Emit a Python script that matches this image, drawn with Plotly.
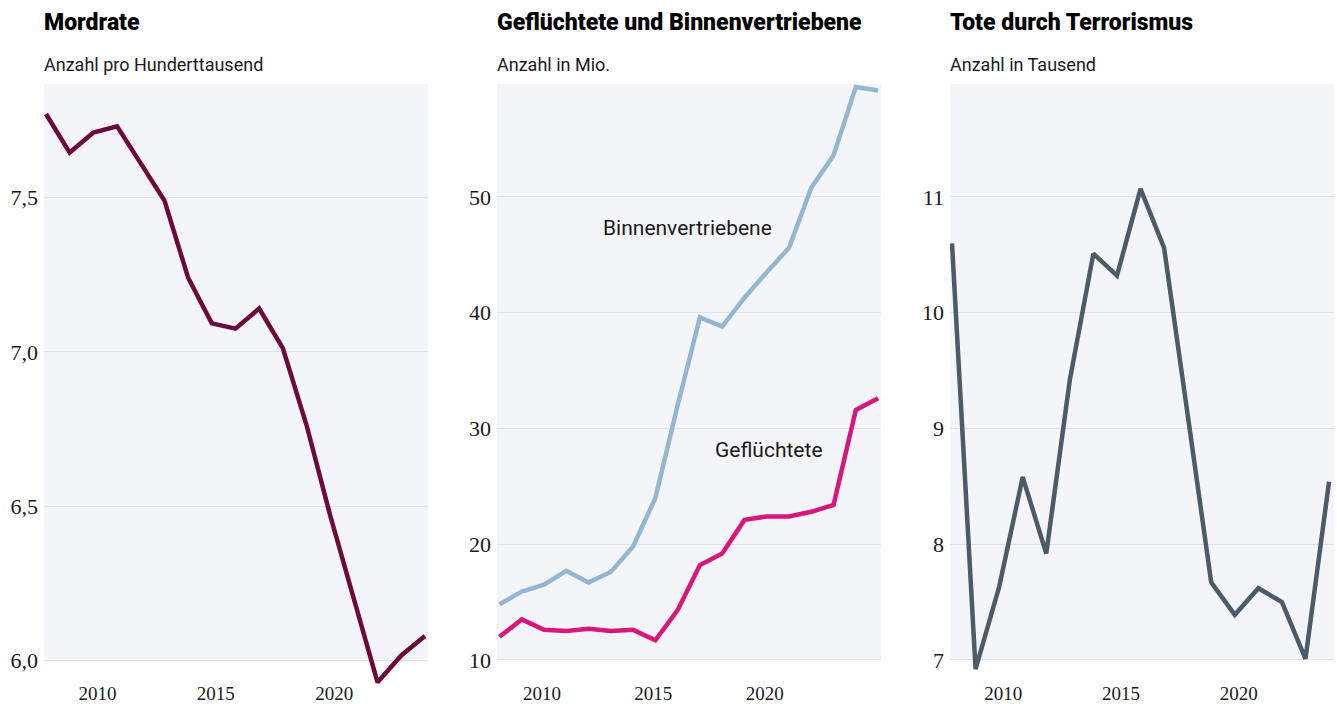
import plotly.graph_objects as go

# ---------------- data ----------------
years_mord = list(range(2008, 2025))
mordrate = [7.77, 7.645, 7.71, 7.73, 7.61, 7.49, 7.24, 7.092, 7.075, 7.14, 7.012,
            6.763, 6.47, 6.20, 5.93, 6.017, 6.08]

years_flucht = list(range(2008, 2026))
binnenvertriebene = [14.8, 15.9, 16.5, 17.7, 16.7, 17.6, 19.8, 24.0, 32.0, 39.6, 38.8,
                     41.3, 43.5, 45.6, 50.8, 53.6, 59.5, 59.2]
gefluechtete = [12.0, 13.5, 12.6, 12.5, 12.7, 12.5, 12.6, 11.7, 14.3, 18.2, 19.2,
                22.1, 22.4, 22.4, 22.8, 23.4, 31.6, 32.6]

years_terror = list(range(2008, 2025))
terrortote = [10.60, 6.92, 7.63, 8.58, 7.92, 9.42, 10.51, 10.32, 11.07, 10.56, 9.12,
              7.67, 7.39, 7.62, 7.50, 7.01, 8.54]

titles = ["Mordrate", "Geflüchtete und Binnenvertriebene", "Tote durch Terrorismus"]
subtitles = ["Anzahl pro Hunderttausend", "Anzahl in Mio.", "Anzahl in Tausend"]
x_ticks = [2010, 2015, 2020]
y_ticks_1 = [6.0, 6.5, 7.0, 7.5]
y_ticks_2 = [10, 20, 30, 40, 50]
y_ticks_3 = [7, 8, 9, 10, 11]
series_labels = ["Binnenvertriebene", "Geflüchtete"]

# ---------------- style ----------------
W, H = 1337, 704
BG = "#f4f5f9"
GRID = "#e1e2e6"
C_MORD = "#6d0a3b"
C_BINNEN = "#93b7d2"
C_FLUCHT = "#d8177a"
C_TERROR = "#4b5b67"
XTICKFONT = dict(family="Liberation Serif", size=19, color="#1a1a1a")
YTICKFONT = dict(family="Liberation Serif", size=22, color="#1a1a1a")
TITLEFONT = dict(family="Roboto", size=23, color="#000000", weight=900)
SUBFONT = dict(family="Roboto", size=18, color="#1a1a1a")
LABELFONT = dict(family="Roboto", size=21, color="#1a1a1a")

panels_px = [(44, 428), (497, 881), (950, 1334)]
top_px, bottom_px = 84, 686
ydom = [(H - bottom_px) / H, (H - top_px) / H]

fig = go.Figure()
fig.add_trace(go.Scatter(x=years_mord, y=mordrate, mode="lines",
                         line=dict(color=C_MORD, width=4.5), xaxis="x", yaxis="y",
                         hoverinfo="skip"))
fig.add_trace(go.Scatter(x=years_flucht, y=binnenvertriebene, mode="lines",
                         line=dict(color=C_BINNEN, width=4.5), xaxis="x2", yaxis="y2",
                         hoverinfo="skip"))
fig.add_trace(go.Scatter(x=years_flucht, y=gefluechtete, mode="lines",
                         line=dict(color=C_FLUCHT, width=4.5), xaxis="x2", yaxis="y2",
                         hoverinfo="skip"))
fig.add_trace(go.Scatter(x=years_terror, y=terrortote, mode="lines",
                         line=dict(color=C_TERROR, width=4.5), xaxis="x3", yaxis="y3",
                         hoverinfo="skip"))

xranges = [[2007.915, 2024.13], [2007.89, 2025.13], [2007.915, 2024.21]]
yranges = [[5.918, 7.867], [7.75, 59.76], [6.775, 11.976]]
yticks = [y_ticks_1, y_ticks_2, y_ticks_3]
label_shift = [4, -2, 4]

for i in range(3):
    sfx = "" if i == 0 else str(i + 1)
    x0, x1 = panels_px[i]
    fig.layout["xaxis" + sfx] = dict(
        domain=[x0 / W, x1 / W], range=xranges[i], anchor="y" + sfx,
        tickvals=x_ticks, ticks="", showgrid=False, zeroline=False, showline=False,
        tickfont=XTICKFONT, ticklabelshift=label_shift[i], ticklabelstandoff=-6,
        fixedrange=True, automargin=False)
    fig.layout["yaxis" + sfx] = dict(
        domain=ydom, range=yranges[i], anchor="x" + sfx,
        tickvals=yticks[i], tickformat=".1f" if i == 0 else "d", ticks="",
        showgrid=True, gridcolor=GRID, gridwidth=1.2, zeroline=False, showline=False,
        tickfont=YTICKFONT, ticklabelstandoff=5, fixedrange=True, automargin=False)
    # grey plot background down to the lowest grid line
    fig.add_shape(type="rect", xref="x" + sfx + " domain", yref="y" + sfx,
                  x0=0, x1=1, y0=yticks[i][0], y1=yranges[i][1],
                  fillcolor=BG, line=dict(width=0), layer="below")
    fig.add_annotation(text=titles[i], xref="paper", yref="paper",
                       x=(x0 - 2) / W, y=1 - 22 / H, xanchor="left", yanchor="middle",
                       showarrow=False, font=TITLEFONT)
    fig.add_annotation(text=subtitles[i], xref="paper", yref="paper",
                       x=(x0 - 2) / W, y=1 - 65 / H, xanchor="left", yanchor="middle",
                       showarrow=False, font=SUBFONT)

fig.add_annotation(text=series_labels[0], xref="x2", yref="y2", x=2016.46, y=47.3,
                   showarrow=False, font=LABELFONT, xanchor="center", yanchor="middle")
fig.add_annotation(text=series_labels[1], xref="x2", yref="y2", x=2020.1, y=28.1,
                   showarrow=False, font=LABELFONT, xanchor="center", yanchor="middle")

fig.update_layout(width=W, height=H, margin=dict(l=0, r=0, t=0, b=0, pad=0),
                  paper_bgcolor="white", plot_bgcolor="rgba(0,0,0,0)",
                  showlegend=False, separators=",.")

fig.write_html("out.html", config={"displayModeBar": False},
               post_script="document.body.style.margin='0px';"
                           "document.body.style.overflow='hidden';")
